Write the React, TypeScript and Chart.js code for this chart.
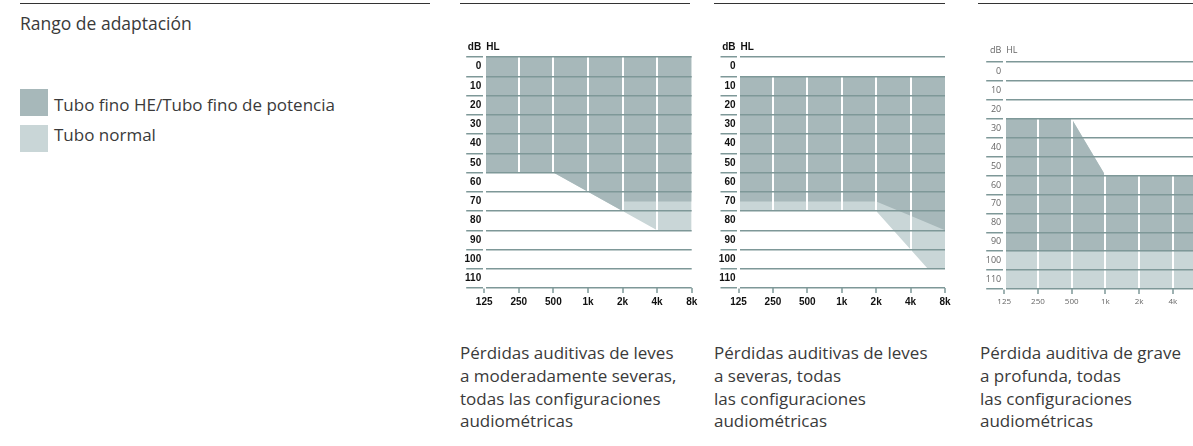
import React, { useEffect, useRef } from 'react';
import { Chart, registerables } from 'chart.js';

Chart.register(...registerables);

// ---------- data ----------
const freqLabels = ['125', '250', '500', '1k', '2k', '4k', '8k'];
const dbMin = 0;
const dbMax = 120;
const dbStep = 10;
const unitLeft = 'dB';
const unitRight = 'HL';

// Chart 1: leves a moderadamente severas
const c1FinoX = [0, 1, 2, 3, 4, 4, 5, 6];
const c1FinoY = [60, 60, 60, 70, 80, 75, 75, 75];
const c1NormalX = [0, 1, 2, 3, 4, 5, 6];
const c1NormalY = [60, 60, 60, 70, 80, 90, 90];
const c1FillFrom = 0;

// Chart 2: leves a severas
const c2FinoX = [0, 1, 2, 3, 4, 5, 6];
const c2FinoY = [75, 75, 75, 75, 75, 82.5, 90];
const c2NormalX = [0, 1, 2, 3, 4, 5, 5.5, 6];
const c2NormalY = [80, 80, 80, 80, 80, 100, 110, 110];
const c2FillFrom = 10;

// Chart 3: grave a profunda
const c3X = [0, 1, 2, 3, 4, 5, 6];
const c3TopY = [30, 30, 30, 60, 60, 60, 60];
const c3FinoTo = 100;
const c3NormalTo = 120;

const legendTitle = 'Rango de adaptación';
const legendFino = 'Tubo fino HE/Tubo fino de potencia';
const legendNormal = 'Tubo normal';

const caption1 = ['Pérdidas auditivas de leves', 'a moderadamente severas,', 'todas las configuraciones', 'audiométricas'];
const caption2 = ['Pérdidas auditivas de leves', 'a severas, todas', 'las configuraciones', 'audiométricas'];
const caption3 = ['Pérdida auditiva de grave', 'a profunda, todas', 'las configuraciones', 'audiométricas'];

// ---------- styles ----------
const DARK = '#a7b8ba';
const LIGHT = '#c9d6d7';
const LINE = '#7e9898';
const TEXT = '#3a3a3a';
const FONT = '"Open Sans", "Noto Sans", sans-serif';

const pts = (xs: number[], ys: number[]) => xs.map((x, i) => ({ x, y: ys[i] }));

const area = (data: any[], color: string, fillValue: number) => ({
  data,
  backgroundColor: color,
  borderWidth: 0,
  pointRadius: 0,
  tension: 0,
  fill: { value: fillValue },
});

type ChartCfg = {
  left: number;
  top: number;
  width: number;
  height: number;
  padding: { left: number; right: number; top: number; bottom: number };
  datasets: any[];
  labelColor: string;
  labelFont: any;
  xFont: any;
  unitFont: string;
  unitColor: string;
  unitDy: number;
  xPad: number;
};

function Audiogram({ cfg }: { cfg: ChartCfg }) {
  const ref = useRef<HTMLCanvasElement | null>(null);
  useEffect(() => {
    if (!ref.current) return;
    const rowH = (cfg.height - cfg.padding.top - cfg.padding.bottom - 22) / ((dbMax - dbMin) / dbStep);
    const unitPlugin = {
      id: 'unitLabel',
      afterDraw(chart: any) {
        const { ctx, chartArea } = chart;
        ctx.save();
        ctx.font = cfg.unitFont;
        ctx.fillStyle = cfg.unitColor;
        ctx.textBaseline = 'middle';
        ctx.textAlign = 'right';
        ctx.fillText(unitLeft, chartArea.left - 3, chartArea.top - cfg.unitDy);
        ctx.textAlign = 'left';
        ctx.fillText(unitRight, chartArea.left + 2, chartArea.top - cfg.unitDy);
        ctx.restore();
      },
    };
    const chart = new Chart(ref.current, {
      type: 'line',
      data: { datasets: cfg.datasets },
      plugins: [unitPlugin],
      options: {
        animation: false,
        responsive: false,
        maintainAspectRatio: false,
        layout: { padding: cfg.padding },
        plugins: { legend: { display: false }, tooltip: { enabled: false } },
        scales: {
          x: {
            type: 'linear',
            min: 0,
            max: freqLabels.length - 1,
            afterBuildTicks: (s: any) => {
              s.ticks = freqLabels.map((_, i) => ({ value: i }));
            },
            afterFit: (s: any) => {
              s.height = 22;
            },
            ticks: {
              autoSkip: false,
              maxRotation: 0,
              padding: cfg.xPad,
              color: cfg.labelColor,
              font: cfg.xFont,
              callback: (v: any) => freqLabels[Math.round(v)] ?? '',
            },
            grid: {
              z: 1,
              color: (ctx: any) =>
                ctx.index === 0 || ctx.index === freqLabels.length - 1 ? 'rgba(0,0,0,0)' : '#ffffff',
              lineWidth: 2,
              tickColor: LINE,
              tickLength: 5,
              tickWidth: 1.5,
            },
            border: { display: false },
          },
          y: {
            type: 'linear',
            min: dbMin,
            max: dbMax,
            reverse: true,
            afterFit: (s: any) => {
              s.width = 24;
            },
            ticks: {
              stepSize: dbStep,
              autoSkip: false,
              padding: -15,
              labelOffset: rowH / 2,
              color: cfg.labelColor,
              font: cfg.labelFont,
              callback: (v: any) => (v >= dbMax ? '' : String(v)),
            },
            grid: {
              z: 2,
              color: LINE,
              lineWidth: 1.5,
              tickLength: 18,
              tickColor: LINE,
              tickWidth: 1.5,
            },
            border: { display: true, color: '#ffffff', width: 3, z: 3 },
          },
        },
      } as any,
    });
    return () => chart.destroy();
  }, [cfg]);
  return (
    <canvas
      ref={ref}
      width={cfg.width}
      height={cfg.height}
      style={{ position: 'absolute', left: cfg.left, top: cfg.top, width: cfg.width, height: cfg.height }}
    />
  );
}

const blobLabelFont = { family: '"Liberation Sans", Arial, sans-serif', size: 10, weight: 'bold' };
const blobCommon = {
  labelColor: '#111111',
  labelFont: blobLabelFont,
  xFont: blobLabelFont,
  unitFont: 'bold 10px "Liberation Sans", Arial, sans-serif',
  unitColor: '#111111',
  unitDy: 10,
  xPad: 3,
};

const cfg1: ChartCfg = {
  ...blobCommon,
  left: 440,
  top: 0,
  width: 265,
  height: 320,
  padding: { left: 20.2, right: 13.3, top: 57, bottom: 10 },
  datasets: [
    area(pts(c1FinoX, c1FinoY), DARK, c1FillFrom),
    area(pts(c1NormalX, c1NormalY), LIGHT, c1FillFrom),
  ],
};

const cfg2: ChartCfg = {
  ...blobCommon,
  left: 700,
  top: 0,
  width: 265,
  height: 320,
  padding: { left: 14.5, right: 20, top: 57, bottom: 10 },
  datasets: [
    area(pts(c2FinoX, c2FinoY), DARK, c2FillFrom),
    area(pts(c2NormalX, c2NormalY), LIGHT, c2FillFrom),
  ],
};

const cfg3: ChartCfg = {
  labelColor: '#666666',
  labelFont: { family: FONT, size: 9 },
  xFont: { family: FONT, size: 8 },
  unitFont: '9px "Open Sans", sans-serif',
  unitColor: '#666666',
  unitDy: 12,
  xPad: 3,
  left: 960,
  top: 0,
  width: 265,
  height: 320,
  padding: { left: 20.2, right: 18.4, top: 62, bottom: 9 },
  datasets: [
    area(pts(c3X, c3TopY), DARK, c3FinoTo),
    area(pts(c3X, c3TopY), LIGHT, c3NormalTo),
  ],
};

const ruleStyle = (left: number, width: number): React.CSSProperties => ({
  position: 'absolute',
  left,
  top: 3,
  width,
  height: 1,
  background: '#333333',
});

function Caption({ left, lines }: { left: number; lines: string[] }) {
  return (
    <div
      style={{
        position: 'absolute',
        left,
        top: 342,
        fontFamily: FONT,
        fontSize: 17,
        lineHeight: '22.8px',
        color: TEXT,
        whiteSpace: 'nowrap',
      }}
    >
      {lines.map((l, i) => (
        <div key={i}>{l}</div>
      ))}
    </div>
  );
}

export default function App() {
  return (
    <div
      style={{
        position: 'fixed',
        left: 0,
        top: 0,
        width: 1193,
        height: 446,
        overflow: 'hidden',
        background: '#ffffff',
      }}
    >
      <div style={ruleStyle(20, 410)} />
      <div style={ruleStyle(460, 230)} />
      <div style={ruleStyle(714, 231)} />
      <div style={ruleStyle(978, 215)} />

      <div
        style={{
          position: 'absolute',
          left: 20,
          top: 11,
          fontFamily: FONT,
          fontSize: 17.5,
          color: TEXT,
          whiteSpace: 'nowrap',
        }}
      >
        {legendTitle}
      </div>

      <div style={{ position: 'absolute', left: 20, top: 89, width: 28, height: 27, background: DARK }} />
      <div
        style={{
          position: 'absolute',
          left: 54,
          top: 93,
          fontFamily: FONT,
          fontSize: 17,
          color: TEXT,
          whiteSpace: 'nowrap',
        }}
      >
        {legendFino}
      </div>
      <div style={{ position: 'absolute', left: 20, top: 125, width: 28, height: 27, background: LIGHT }} />
      <div
        style={{
          position: 'absolute',
          left: 54,
          top: 123,
          fontFamily: FONT,
          fontSize: 17,
          color: TEXT,
          whiteSpace: 'nowrap',
        }}
      >
        {legendNormal}
      </div>

      <Audiogram cfg={cfg1} />
      <Audiogram cfg={cfg2} />
      <Audiogram cfg={cfg3} />

      <Caption left={460} lines={caption1} />
      <Caption left={714} lines={caption2} />
      <Caption left={980} lines={caption3} />
    </div>
  );
}
